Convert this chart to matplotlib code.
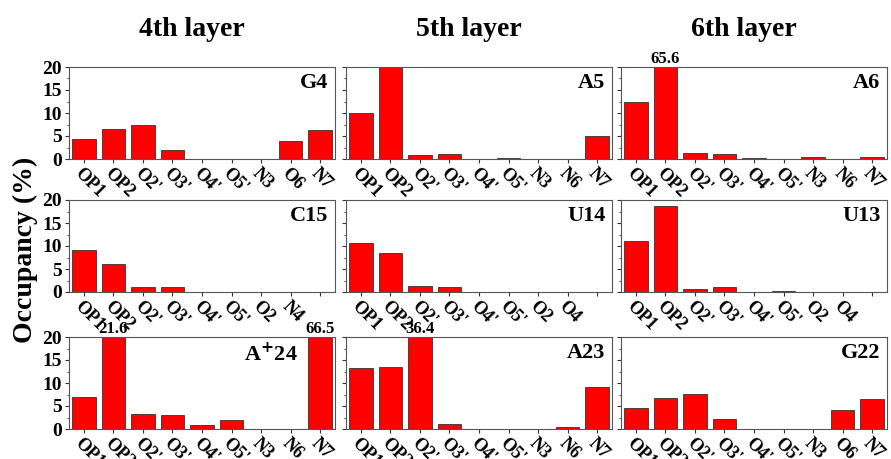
import matplotlib.pyplot as plt
from matplotlib.ticker import MultipleLocator

plt.rcParams['font.family'] = ['Liberation Serif', 'DejaVu Serif']
plt.rcParams['font.weight'] = 'bold'

# x labels for each panel kind
lab_g = ["OP1", "OP2", "O2'", "O3'", "O4'", "O5'", "N3", "O6", "N7"]
lab_a = ["OP1", "OP2", "O2'", "O3'", "O4'", "O5'", "N3", "N6", "N7"]
lab_c = ["OP1", "OP2", "O2'", "O3'", "O4'", "O5'", "O2", "N4", ""]
lab_u = ["OP1", "OP2", "O2'", "O3'", "O4'", "O5'", "O2", "O4", ""]

# occupancy values (%)
g4 = [4.3, 6.6, 7.5, 2.0, 0, 0, 0, 4.0, 6.4]
a5 = [10.0, 20.0, 0.8, 1.1, 0, 0.3, 0, 0, 4.9]
a6 = [12.3, 65.6, 1.3, 1.1, 0.3, 0, 0.5, 0, 0.4]
c15 = [9.1, 6.1, 1.0, 1.0, 0.1, 0, 0, 0, 0]
u14 = [10.6, 8.4, 1.2, 1.0, 0, 0, 0, 0, 0]
u13 = [11.1, 18.8, 0.6, 1.0, 0, 0.2, 0, 0, 0]
a24 = [7.0, 21.6, 3.2, 3.1, 0.8, 2.0, 0, 0, 66.5]
a23 = [13.2, 13.4, 36.4, 1.1, 0, 0.1, 0, 0.5, 9.2]
g22 = [4.6, 6.7, 7.7, 2.1, 0, 0, 0, 4.2, 6.5]

panels = [
    [("G4", g4, lab_g, []), ("A5", a5, lab_a, []), ("A6", a6, lab_a, [1])],
    [("C15", c15, lab_c, []), ("U14", u14, lab_u, []), ("U13", u13, lab_u, [])],
    [("A$^{+}$24", a24, lab_a, [1, 8]), ("A23", a23, lab_a, [2]), ("G22", g22, lab_g, [])],
]
col_titles = ["4th layer", "5th layer", "6th layer"]

W, H = 891, 459
fig = plt.figure(figsize=(W / 100, H / 100), dpi=100)

lefts = [69, 346, 621]
tops = [67, 200, 337]
pw, ph = 266, 92

for r in range(3):
    for c in range(3):
        name, vals, labs, annot = panels[r][c]
        ax = fig.add_axes([lefts[c] / W, 1 - (tops[r] + ph) / H, pw / W, ph / H])
        x = list(range(len(vals)))
        ax.bar(x, vals, width=0.8, color='#ff0000', edgecolor='#333333', linewidth=0.6)
        ax.set_xlim(-0.5, len(vals) - 0.5)
        ax.set_ylim(0, 20)
        ax.yaxis.set_major_locator(MultipleLocator(5))
        ax.yaxis.set_minor_locator(MultipleLocator(2.5))
        ax.set_xticks(x)
        ax.set_xticklabels(labs, rotation=-45, ha='left', va='top',
                           rotation_mode='anchor', fontsize=13, fontweight='bold')
        ax.tick_params(axis='x', length=3, pad=1, color='#333333')
        ax.tick_params(axis='y', which='major', length=3, pad=2, color='#333333', labelsize=14)
        ax.tick_params(axis='y', which='minor', length=1.5, color='#333333')
        if c > 0:
            ax.set_yticklabels([])
        for s in ax.spines.values():
            s.set_color('#555555')
            s.set_linewidth(0.8)
        # the A+24 label sits left of the tall N7 bar
        nx = 0.86 if r == 2 and c == 0 else 0.975
        ax.text(nx, 0.94, name, transform=ax.transAxes, ha='right', va='top',
                fontsize=16, fontweight='bold')
        for i in annot:
            ax.annotate(f"{vals[i]:.1f}", (i, 20), xytext=(0, 0), textcoords='offset points',
                        ha='center', va='bottom', fontsize=12, fontweight='bold',
                        annotation_clip=False)

for c, t in enumerate(col_titles):
    fig.text((lefts[c] + pw / 2 - 10) / W, 1 - 30 / H, t, ha='center', va='center',
             fontsize=20, fontweight='bold')

fig.text(25 / W, 1 - 250 / H, "Occupancy (%)", rotation=90, ha='center', va='center',
         fontsize=20, fontweight='bold')

fig.savefig("out.png", dpi=100)
